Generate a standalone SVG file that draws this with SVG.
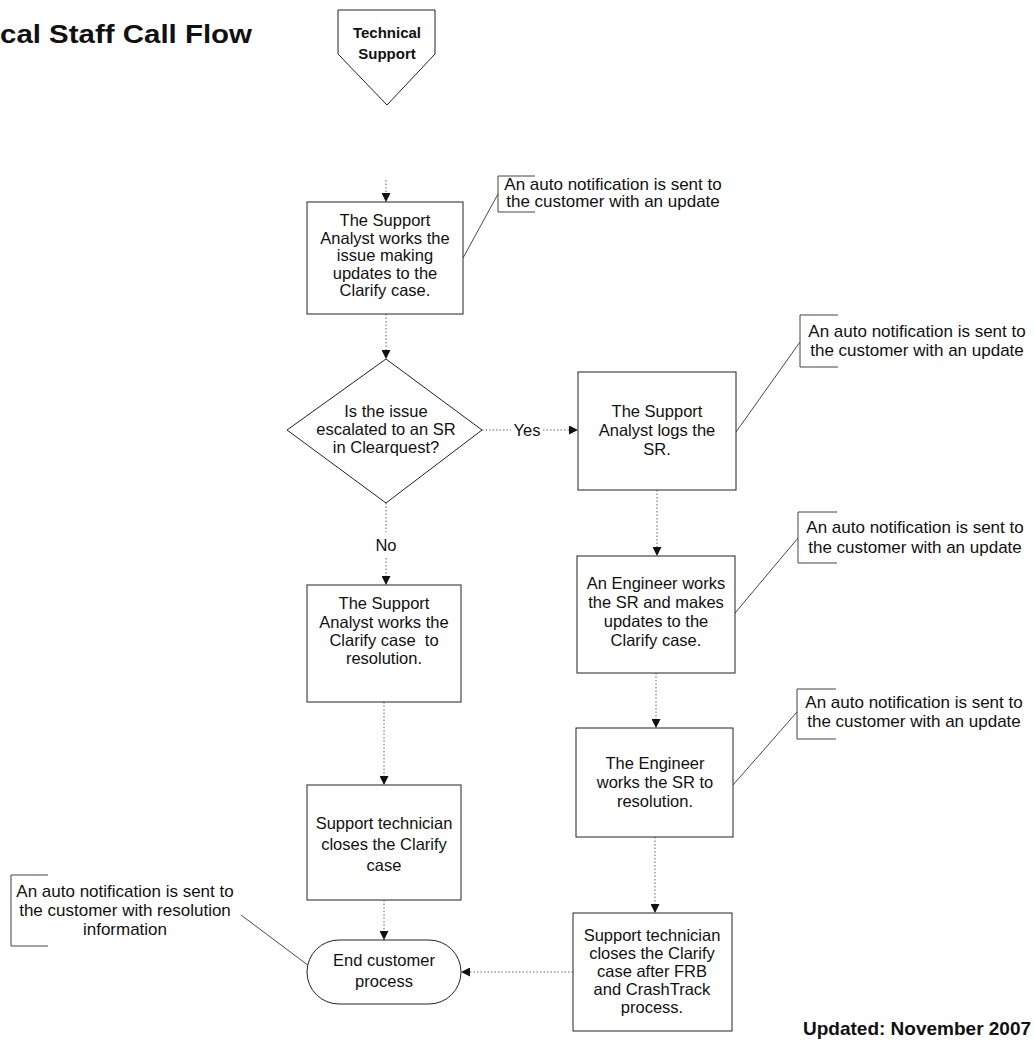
<svg xmlns="http://www.w3.org/2000/svg" width="1034" height="1042" viewBox="0 0 1034 1042">
<defs>
<marker id="ah" viewBox="0 0 10 10" refX="10" refY="5" markerWidth="9" markerHeight="9" markerUnits="userSpaceOnUse" orient="auto">
<path d="M0,0 L10,5 L0,10 z" fill="#111"/>
</marker>
</defs>
<style>
text{font-family:"Liberation Sans",Arial,sans-serif;fill:#111}
.t{font-size:16.5px;text-anchor:middle}
.n{font-size:17px;text-anchor:middle}
.b{font-weight:bold}
.box{fill:#fff;stroke:#222;stroke-width:1}
.flow{fill:none;stroke:#666;stroke-width:1;stroke-dasharray:1.5 2}
.flowa{fill:none;stroke:#666;stroke-width:1;stroke-dasharray:1.5 2;marker-end:url(#ah)}
.lead{fill:none;stroke:#333;stroke-width:0.9}
.br{fill:none;stroke:#444;stroke-width:1}
</style>
<rect width="1034" height="1042" fill="#fff"/>
<text x="0" y="43" class="b" font-size="25" textLength="252" lengthAdjust="spacingAndGlyphs">cal Staff Call Flow</text>
<text x="803" y="1035" class="b" font-size="19">Updated: November 2007</text>

<g id="connectors">
<path class="flowa" d="M386,180 L386,202"/>
<path class="flowa" d="M386,314 L386,359"/>
<path class="flow" d="M482,430 L511,430"/>
<path class="flowa" d="M543,430 L578,430"/>
<text x="527" y="436" class="t">Yes</text>
<path class="flow" d="M386,503 L386,532"/>
<text x="386" y="551" class="t">No</text>
<path class="flowa" d="M386,558 L386,585"/>
<path class="flowa" d="M657,490 L657,556"/>
<path class="flowa" d="M656,673 L656,728"/>
<path class="flowa" d="M655,837 L655,913"/>
<path class="flowa" d="M384,702 L384,785"/>
<path class="flowa" d="M384,900 L384,940"/>
<path class="flowa" d="M573,972 L461,972"/>
<path class="lead" d="M463,258 L498,194"/>
<path class="lead" d="M736,432 L800,342"/>
<path class="lead" d="M735,613 L798,538"/>
<path class="lead" d="M733,785 L797,712"/>
<path class="lead" d="M241,915 L309,966"/>
</g>

<g id="start">
<path class="box" d="M338,10 L435,10 L435,54 L387,105 L338,54 Z"/>
<text x="387" y="38" class="b" font-size="15" text-anchor="middle">Technical</text>
<text x="387" y="59" class="b" font-size="15" text-anchor="middle">Support</text>
</g>

<g id="box1">
<rect class="box" x="307" y="202" width="156" height="112"/>
<text class="t" x="385"><tspan x="385" y="226">The Support</tspan><tspan x="385" y="244">Analyst works the</tspan><tspan x="385" y="261">issue making</tspan><tspan x="385" y="279">updates to the</tspan><tspan x="385" y="296">Clarify case.</tspan></text>
</g>

<g id="note1">
<path class="br" d="M535,176 L498,176 L498,212 L535,212"/>
<text class="n"><tspan x="613" y="190">An auto notification is sent to</tspan><tspan x="613" y="207">the customer with an update</tspan></text>
</g>

<g id="decision">
<path class="box" d="M386,359 L482,430 L386,503 L287,430 Z"/>
<text class="t"><tspan x="386" y="417">Is the issue</tspan><tspan x="386" y="435">escalated to an SR</tspan><tspan x="386" y="453">in Clearquest?</tspan></text>
</g>

<g id="box2">
<rect class="box" x="578" y="372" width="158" height="118"/>
<text class="t"><tspan x="657" y="417">The Support</tspan><tspan x="657" y="436">Analyst logs the</tspan><tspan x="657" y="455">SR.</tspan></text>
</g>

<g id="note2">
<path class="br" d="M838,315 L800,315 L800,367 L838,367"/>
<text class="n"><tspan x="917" y="337">An auto notification is sent to</tspan><tspan x="917" y="356">the customer with an update</tspan></text>
</g>

<g id="box3">
<rect class="box" x="577" y="556" width="158" height="117"/>
<text class="t"><tspan x="656" y="589">An Engineer works</tspan><tspan x="656" y="608">the SR and makes</tspan><tspan x="656" y="627">updates to the</tspan><tspan x="656" y="646">Clarify case.</tspan></text>
</g>

<g id="note3">
<path class="br" d="M837,512 L798,512 L798,563 L837,563"/>
<text class="n"><tspan x="915" y="533">An auto notification is sent to</tspan><tspan x="915" y="553">the customer with an update</tspan></text>
</g>

<g id="box4">
<rect class="box" x="576" y="728" width="157" height="109"/>
<text class="t"><tspan x="655" y="769">The Engineer</tspan><tspan x="655" y="788">works the SR to</tspan><tspan x="655" y="807">resolution.</tspan></text>
</g>

<g id="note4">
<path class="br" d="M836,689 L797,689 L797,739 L836,739"/>
<text class="n"><tspan x="914" y="708">An auto notification is sent to</tspan><tspan x="914" y="727">the customer with an update</tspan></text>
</g>

<g id="box5">
<rect class="box" x="307" y="585" width="154" height="117"/>
<text class="t" xml:space="preserve"><tspan x="384" y="609">The Support</tspan><tspan x="384" y="628">Analyst works the</tspan><tspan x="384" y="646">Clarify case  to</tspan><tspan x="384" y="664">resolution.</tspan></text>
</g>

<g id="box7">
<rect class="box" x="307" y="785" width="154" height="115"/>
<text class="t"><tspan x="384" y="829">Support technician</tspan><tspan x="384" y="850">closes the Clarify</tspan><tspan x="384" y="871">case</tspan></text>
</g>

<g id="box6">
<rect class="box" x="573" y="913" width="159" height="118"/>
<text class="t"><tspan x="652" y="941">Support technician</tspan><tspan x="652" y="959">closes the Clarify</tspan><tspan x="652" y="977">case after FRB</tspan><tspan x="652" y="995">and CrashTrack</tspan><tspan x="652" y="1013">process.</tspan></text>
</g>

<g id="end">
<rect class="box" x="307" y="940" width="154" height="64" rx="32" ry="32"/>
<text class="t"><tspan x="384" y="966">End customer</tspan><tspan x="384" y="987">process</tspan></text>
</g>

<g id="note5">
<path class="br" d="M48,875 L11,875 L11,946 L48,946"/>
<text class="n"><tspan x="125" y="897">An auto notification is sent to</tspan><tspan x="125" y="916">the customer with resolution</tspan><tspan x="125" y="935">information</tspan></text>
</g>
</svg>
